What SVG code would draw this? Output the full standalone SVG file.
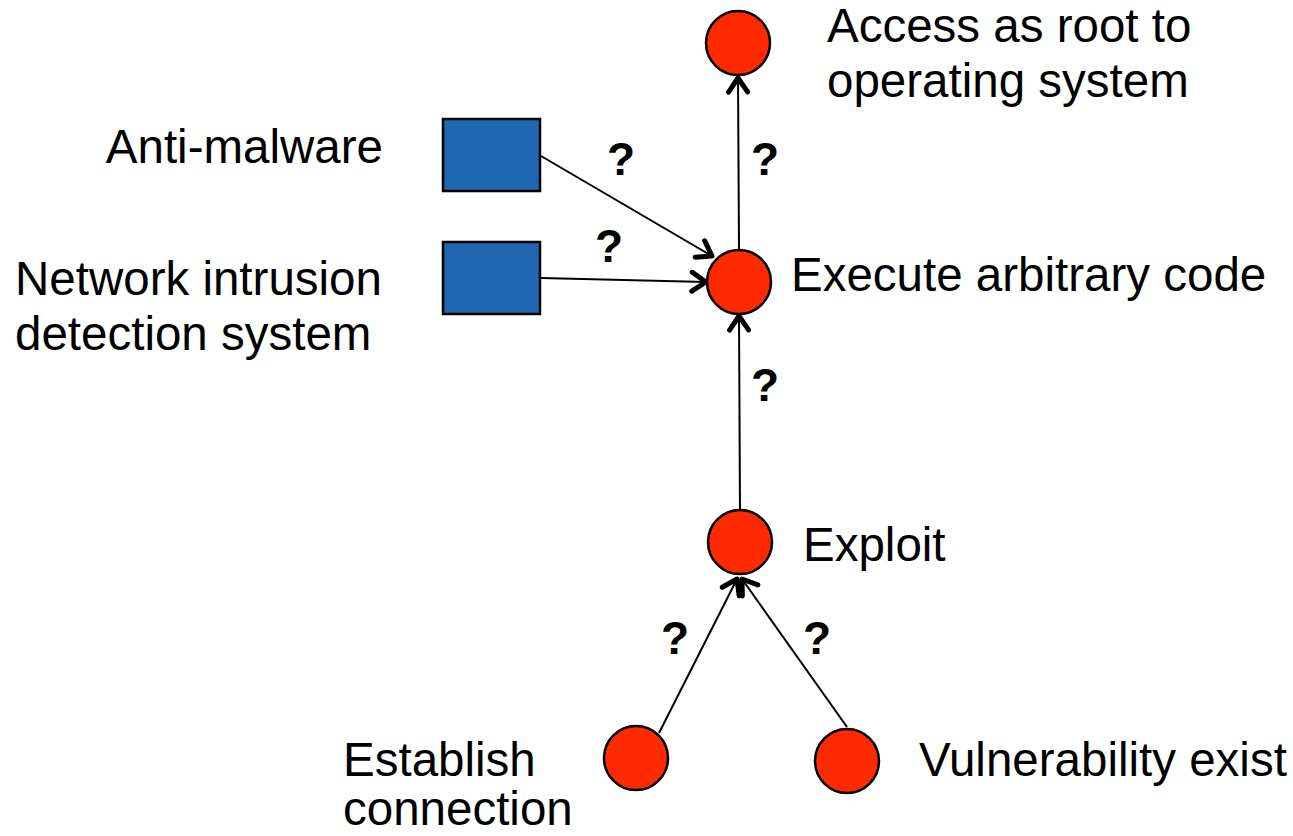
<svg xmlns="http://www.w3.org/2000/svg" width="1293" height="836" viewBox="0 0 1293 836">
  <style>
    .event { fill: #ff2a00; stroke: #000; stroke-width: 2.5; }
    .control { fill: #1f67b1; stroke: #000; stroke-width: 2.5; }
    .label { font-family: "Liberation Sans", Arial, sans-serif; font-size: 47.5px; fill: #000; }
    .q { font-family: "Liberation Sans", Arial, sans-serif; font-size: 46px; font-weight: bold; fill: #000; text-anchor: middle; }
    .edge { stroke: #000; stroke-width: 2; fill: none; marker-end: url(#chevron); }
  </style>
  <defs>
    <marker id="chevron" viewBox="-17 -12 21 24" refX="0" refY="0" markerWidth="21" markerHeight="24" markerUnits="userSpaceOnUse" orient="auto">
      <path d="M -14 -9.5 L 0 0 L -14 9.5" fill="none" stroke="#000" stroke-width="5" stroke-linecap="round" stroke-linejoin="round"/>
    </marker>
  </defs>

  <!-- connectors -->
  <g id="edges">
    <line class="edge" x1="541" y1="156" x2="712" y2="256"/>
    <line class="edge" x1="541" y1="278" x2="706" y2="282"/>
    <line class="edge" x1="739" y1="250" x2="738" y2="78"/>
    <line class="edge" x1="740" y1="510" x2="739" y2="316"/>
    <line class="edge" x1="659" y1="733" x2="737" y2="579"/>
    <line class="edge" x1="847" y1="727" x2="742" y2="579"/>
  </g>

  <!-- edge labels -->
  <g id="edge-labels">
    <text class="q" x="621" y="175">?</text>
    <text class="q" x="765" y="175">?</text>
    <text class="q" x="609" y="262">?</text>
    <text class="q" x="765" y="401">?</text>
    <text class="q" x="675" y="654">?</text>
    <text class="q" x="817" y="654">?</text>
  </g>

  <g id="node-root-access">
    <circle class="event" cx="738" cy="43" r="32"/>
    <text class="label" x="827" y="42">Access as root to</text>
    <text class="label" x="827" y="97">operating system</text>
  </g>

  <g id="node-anti-malware">
    <rect class="control" x="443" y="119" width="97" height="72"/>
    <text class="label" x="383" y="163" text-anchor="end">Anti-malware</text>
  </g>

  <g id="node-nids">
    <rect class="control" x="443" y="242" width="97" height="72"/>
    <text class="label" x="15" y="295">Network intrusion</text>
    <text class="label" x="15" y="350">detection system</text>
  </g>

  <g id="node-execute">
    <circle class="event" cx="739" cy="282" r="32"/>
    <text class="label" x="791" y="291">Execute arbitrary code</text>
  </g>

  <g id="node-exploit">
    <circle class="event" cx="740" cy="542" r="32"/>
    <text class="label" x="803" y="561">Exploit</text>
  </g>

  <g id="node-establish">
    <circle class="event" cx="636" cy="758" r="32"/>
    <text class="label" x="343" y="776">Establish</text>
    <text class="label" x="343" y="825">connection</text>
  </g>

  <g id="node-vulnerability">
    <circle class="event" cx="847" cy="761" r="32"/>
    <text class="label" x="919" y="776">Vulnerability exist</text>
  </g>
</svg>
